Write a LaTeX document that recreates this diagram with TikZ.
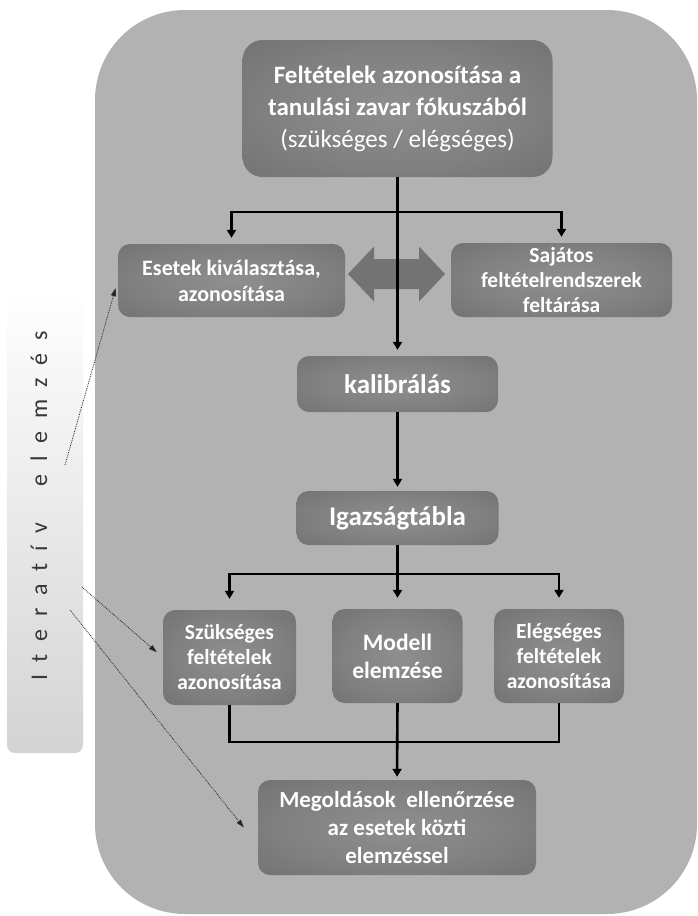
\documentclass[tikz,border=0pt]{standalone}
\usepackage{fontspec}
\setmainfont{Carlito}
\newfontfamily\barfont[LetterSpace=30]{Carlito}
\usetikzlibrary{arrows.meta}

\definecolor{panelgrey}{gray}{0.70}
\definecolor{boxmid}{gray}{0.56}
\definecolor{boxinner}{gray}{0.50}
\definecolor{boxedge}{gray}{0.33}
\definecolor{arrowgrey}{gray}{0.45}
\definecolor{barlow}{gray}{0.83}
\definecolor{bartext}{gray}{0.22}
\pgfdeclareradialshading{boxglow}{\pgfpoint{0bp}{0bp}}{color(0bp)=(boxmid); color(22bp)=(boxinner); color(68bp)=(boxedge)}

\begin{document}
\begin{tikzpicture}[x=1pt,y=-1pt,
    darkbox/.style={shading=boxglow, rounded corners=12pt, text=white, align=center, inner sep=0pt},
    link/.style={line width=2.6pt, line join=miter},
    arrowlink/.style={link, -{Triangle[length=8pt,width=9pt]}},
    hint/.style={densely dotted, line width=0.8pt, draw=black!85, -{Triangle[length=8pt,width=5pt]}}]
    \useasboundingbox (0,0) rectangle (697,916);

    % background panel and side bar
    \fill[panelgrey, rounded corners=90pt] (95,10) rectangle (697,914);
    \shade[top color=white, bottom color=barlow, rounded corners=8pt] (7,287) rectangle (83,753);
    \node[rotate=90, text=bartext, font=\barfont\fontsize{24}{28}\selectfont] (itlabel) at (39,506)
        {I t e r a t í v\hspace{36pt}e l e m z é s};

    % double arrow between the two upper boxes
    \fill[arrowgrey] (348,274) -- (374,246.5) -- (374,259) -- (419,259) -- (419,246.5) -- (445,274)
        -- (419,301.5) -- (419,289) -- (374,289) -- (374,301.5) -- cycle;

    \node[darkbox, rounded corners=20pt, minimum width=310pt, minimum height=137pt,
          font=\fontsize{25}{32}\selectfont] (feltetel) at (397.5,108.5)
        {\bfseries Feltételek azonosítása a\\\bfseries tanulási zavar fókuszából\\(szükséges / elégséges)};

    \node[darkbox, minimum width=227pt, minimum height=73pt, font=\fontsize{22}{26}\selectfont\bfseries]
        (esetek) at (231.5,280.5) {Esetek kiválasztása,\\azonosítása};
    \node[darkbox, minimum width=221pt, minimum height=74pt, font=\fontsize{21.5}{25}\selectfont\bfseries]
        (sajatos) at (561.5,280) {Sajátos\\feltételrendszerek\\feltárása};

    \node[darkbox, minimum width=201pt, minimum height=56pt, font=\fontsize{27}{32}\selectfont\bfseries]
        (kalibralas) at (397.5,384) {kalibrálás};
    \node[darkbox, minimum width=202pt, minimum height=54pt, font=\fontsize{27}{32}\selectfont\bfseries]
        (igazsag) at (397.5,518) {Igazságtábla};

    \node[darkbox, minimum width=133pt, minimum height=95pt, font=\fontsize{21.5}{25}\selectfont\bfseries]
        (szukseges) at (229.5,657.5) {Szükséges\\feltételek\\azonosítása};
    \node[darkbox, minimum width=130pt, minimum height=94pt, font=\fontsize{23.5}{28}\selectfont\bfseries]
        (modell) at (397.5,656) {Modell\\elemzése};
    \node[darkbox, minimum width=130pt, minimum height=94pt, font=\fontsize{21.5}{25}\selectfont\bfseries]
        (elegseges) at (559,656) {Elégséges\\feltételek\\azonosítása};

    \node[darkbox, minimum width=278pt, minimum height=95pt, font=\fontsize{23}{28}\selectfont\bfseries]
        (megold) at (397,827.5) {Megoldások\ \ ellenőrzése\\az esetek közti\\elemzéssel};

    % connectors
    \coordinate (fork1) at (397.5,212);
    \coordinate (fork2) at (397.5,574);
    \coordinate (join) at (397.5,742);

    \draw[arrowlink, shorten >=6pt] (feltetel.south) -- (kalibralas.north);
    \draw[arrowlink, shorten >=6pt] (fork1) -| (esetek.north);
    \draw[arrowlink, shorten >=6pt] (fork1) -| (sajatos.north);
    \draw[arrowlink, shorten >=4pt] (kalibralas.south) -- (igazsag.north);
    \draw[arrowlink, shorten >=11pt] (igazsag.south) -- (modell.north);
    \draw[arrowlink, shorten >=11pt] (fork2) -| (szukseges.north);
    \draw[arrowlink, shorten >=11pt] (fork2) -| (elegseges.north);
    \draw[link] (szukseges.south) |- (join) -| (elegseges.south);
    \draw[arrowlink, shorten >=3pt] (modell.south) -- (megold.north);

    % iterative hints from the side bar
    \coordinate (hint1) at (65,465);
    \coordinate (hint2) at (82,587);
    \coordinate (hint3) at (70,610);
    \draw[hint, shorten >=8pt] (hint1) -- (esetek.west);
    \draw[hint, shorten >=8pt] (hint2) -- (szukseges.west);
    \draw[hint] (hint3) -- ([xshift=-14pt]megold.west);
\end{tikzpicture}
\end{document}
